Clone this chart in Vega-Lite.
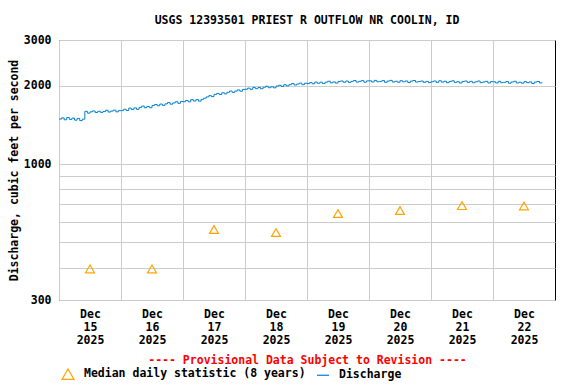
{
  "$schema": "https://vega.github.io/schema/vega-lite/v6.json",
  "autosize": "none",
  "width": 496,
  "height": 260,
  "padding": {"left": 59, "top": 40, "right": 21, "bottom": 84},
  "background": "white",
  "title": {
    "text": "USGS 12393501 PRIEST R OUTFLOW NR COOLIN, ID",
    "font": "DejaVu Sans Mono",
    "fontSize": 11.5,
    "fontWeight": "bold",
    "color": "black",
    "anchor": "middle",
    "offset": 8
  },
  "config": {
    "view": {"stroke": "black", "strokeWidth": 1},
    "font": "DejaVu Sans Mono",
    "axis": {
      "labelFont": "DejaVu Sans Mono",
      "labelFontSize": 11.5,
      "labelFontWeight": "bold",
      "labelColor": "black",
      "titleFont": "DejaVu Sans Mono",
      "titleFontSize": 11.5,
      "titleFontWeight": "bold",
      "titleColor": "black",
      "gridColor": "#cccccc",
      "gridWidth": 1,
      "gridOpacity": 1,
      "domain": false,
      "ticks": false
    },
    "legend": {
      "labelFont": "DejaVu Sans Mono",
      "labelFontSize": 11.5,
      "labelFontWeight": "bold",
      "labelColor": "black",
      "labelLimit": 400
    }
  },
  "datasets": {
    "median": [
      {"t": "2025-12-15T12:00", "q": 395, "series": "Median daily statistic (8 years)"},
      {"t": "2025-12-16T12:00", "q": 395, "series": "Median daily statistic (8 years)"},
      {"t": "2025-12-17T12:00", "q": 560, "series": "Median daily statistic (8 years)"},
      {"t": "2025-12-18T12:00", "q": 545, "series": "Median daily statistic (8 years)"},
      {"t": "2025-12-19T12:00", "q": 645, "series": "Median daily statistic (8 years)"},
      {"t": "2025-12-20T12:00", "q": 663, "series": "Median daily statistic (8 years)"},
      {"t": "2025-12-21T12:00", "q": 692, "series": "Median daily statistic (8 years)"},
      {"t": "2025-12-22T12:00", "q": 690, "series": "Median daily statistic (8 years)"}
    ],
    "flow": [
      {"t": "2025-12-15T00:00", "q": 1490}, {"t": "2025-12-15T01:00", "q": 1505}, {"t": "2025-12-15T02:00", "q": 1480}, {"t": "2025-12-15T03:00", "q": 1510},
      {"t": "2025-12-15T04:00", "q": 1485}, {"t": "2025-12-15T05:00", "q": 1502}, {"t": "2025-12-15T06:00", "q": 1475}, {"t": "2025-12-15T07:00", "q": 1498},
      {"t": "2025-12-15T08:00", "q": 1470}, {"t": "2025-12-15T09:00", "q": 1488}, {"t": "2025-12-15T10:00", "q": 1595}, {"t": "2025-12-15T11:00", "q": 1570},
      {"t": "2025-12-15T12:00", "q": 1588}, {"t": "2025-12-15T13:00", "q": 1600}, {"t": "2025-12-15T14:00", "q": 1578}, {"t": "2025-12-15T15:00", "q": 1596},
      {"t": "2025-12-15T16:00", "q": 1580}, {"t": "2025-12-15T17:00", "q": 1592}, {"t": "2025-12-15T18:00", "q": 1610}, {"t": "2025-12-15T19:00", "q": 1585},
      {"t": "2025-12-15T20:00", "q": 1598}, {"t": "2025-12-15T21:00", "q": 1612}, {"t": "2025-12-15T22:00", "q": 1588}, {"t": "2025-12-15T23:00", "q": 1605},
      {"t": "2025-12-16T00:00", "q": 1605}, {"t": "2025-12-16T01:00", "q": 1625}, {"t": "2025-12-16T02:00", "q": 1606}, {"t": "2025-12-16T03:00", "q": 1641},
      {"t": "2025-12-16T04:00", "q": 1622}, {"t": "2025-12-16T05:00", "q": 1644}, {"t": "2025-12-16T06:00", "q": 1623}, {"t": "2025-12-16T07:00", "q": 1651},
      {"t": "2025-12-16T08:00", "q": 1671}, {"t": "2025-12-16T09:00", "q": 1646}, {"t": "2025-12-16T10:00", "q": 1665}, {"t": "2025-12-16T11:00", "q": 1647},
      {"t": "2025-12-16T12:00", "q": 1681}, {"t": "2025-12-16T13:00", "q": 1694}, {"t": "2025-12-16T14:00", "q": 1676}, {"t": "2025-12-16T15:00", "q": 1701},
      {"t": "2025-12-16T16:00", "q": 1681}, {"t": "2025-12-16T17:00", "q": 1704}, {"t": "2025-12-16T18:00", "q": 1724}, {"t": "2025-12-16T19:00", "q": 1699},
      {"t": "2025-12-16T20:00", "q": 1718}, {"t": "2025-12-16T21:00", "q": 1736}, {"t": "2025-12-16T22:00", "q": 1712}, {"t": "2025-12-16T23:00", "q": 1740},
      {"t": "2025-12-17T00:00", "q": 1737}, {"t": "2025-12-17T01:00", "q": 1756}, {"t": "2025-12-17T02:00", "q": 1735}, {"t": "2025-12-17T03:00", "q": 1769},
      {"t": "2025-12-17T04:00", "q": 1748}, {"t": "2025-12-17T05:00", "q": 1769}, {"t": "2025-12-17T06:00", "q": 1746}, {"t": "2025-12-17T07:00", "q": 1773},
      {"t": "2025-12-17T08:00", "q": 1792}, {"t": "2025-12-17T09:00", "q": 1812}, {"t": "2025-12-17T10:00", "q": 1833}, {"t": "2025-12-17T11:00", "q": 1817},
      {"t": "2025-12-17T12:00", "q": 1853}, {"t": "2025-12-17T13:00", "q": 1869}, {"t": "2025-12-17T14:00", "q": 1852}, {"t": "2025-12-17T15:00", "q": 1880},
      {"t": "2025-12-17T16:00", "q": 1862}, {"t": "2025-12-17T17:00", "q": 1888}, {"t": "2025-12-17T18:00", "q": 1909}, {"t": "2025-12-17T19:00", "q": 1887},
      {"t": "2025-12-17T20:00", "q": 1908}, {"t": "2025-12-17T21:00", "q": 1928}, {"t": "2025-12-17T22:00", "q": 1906}, {"t": "2025-12-17T23:00", "q": 1937},
      {"t": "2025-12-18T00:00", "q": 1940}, {"t": "2025-12-18T01:00", "q": 1959}, {"t": "2025-12-18T02:00", "q": 1938}, {"t": "2025-12-18T03:00", "q": 1972},
      {"t": "2025-12-18T04:00", "q": 1950}, {"t": "2025-12-18T05:00", "q": 1971}, {"t": "2025-12-18T06:00", "q": 1948}, {"t": "2025-12-18T07:00", "q": 1975},
      {"t": "2025-12-18T08:00", "q": 1992}, {"t": "2025-12-18T09:00", "q": 1966}, {"t": "2025-12-18T10:00", "q": 1983}, {"t": "2025-12-18T11:00", "q": 1964},
      {"t": "2025-12-18T12:00", "q": 1995}, {"t": "2025-12-18T13:00", "q": 2008}, {"t": "2025-12-18T14:00", "q": 1989}, {"t": "2025-12-18T15:00", "q": 2019},
      {"t": "2025-12-18T16:00", "q": 1998}, {"t": "2025-12-18T17:00", "q": 2021}, {"t": "2025-12-18T18:00", "q": 2040}, {"t": "2025-12-18T19:00", "q": 2014},
      {"t": "2025-12-18T20:00", "q": 2031}, {"t": "2025-12-18T21:00", "q": 2047}, {"t": "2025-12-18T22:00", "q": 2020}, {"t": "2025-12-18T23:00", "q": 2046},
      {"t": "2025-12-19T00:00", "q": 2040}, {"t": "2025-12-19T01:00", "q": 2057}, {"t": "2025-12-19T02:00", "q": 2035}, {"t": "2025-12-19T03:00", "q": 2067},
      {"t": "2025-12-19T04:00", "q": 2045}, {"t": "2025-12-19T05:00", "q": 2064}, {"t": "2025-12-19T06:00", "q": 2040}, {"t": "2025-12-19T07:00", "q": 2065},
      {"t": "2025-12-19T08:00", "q": 2082}, {"t": "2025-12-19T09:00", "q": 2054}, {"t": "2025-12-19T10:00", "q": 2069}, {"t": "2025-12-19T11:00", "q": 2048},
      {"t": "2025-12-19T12:00", "q": 2078}, {"t": "2025-12-19T13:00", "q": 2087}, {"t": "2025-12-19T14:00", "q": 2064}, {"t": "2025-12-19T15:00", "q": 2086},
      {"t": "2025-12-19T16:00", "q": 2061}, {"t": "2025-12-19T17:00", "q": 2080}, {"t": "2025-12-19T18:00", "q": 2095}, {"t": "2025-12-19T19:00", "q": 2066},
      {"t": "2025-12-19T20:00", "q": 2080}, {"t": "2025-12-19T21:00", "q": 2094}, {"t": "2025-12-19T22:00", "q": 2064}, {"t": "2025-12-19T23:00", "q": 2088},
      {"t": "2025-12-20T00:00", "q": 2090}, {"t": "2025-12-20T01:00", "q": 2068}, {"t": "2025-12-20T02:00", "q": 2098}, {"t": "2025-12-20T03:00", "q": 2073},
      {"t": "2025-12-20T04:00", "q": 2079}, {"t": "2025-12-20T05:00", "q": 2093}, {"t": "2025-12-20T06:00", "q": 2062}, {"t": "2025-12-20T07:00", "q": 2085},
      {"t": "2025-12-20T08:00", "q": 2098}, {"t": "2025-12-20T09:00", "q": 2068}, {"t": "2025-12-20T10:00", "q": 2081}, {"t": "2025-12-20T11:00", "q": 2064},
      {"t": "2025-12-20T12:00", "q": 2092}, {"t": "2025-12-20T13:00", "q": 2072}, {"t": "2025-12-20T14:00", "q": 2087}, {"t": "2025-12-20T15:00", "q": 2058},
      {"t": "2025-12-20T16:00", "q": 2084}, {"t": "2025-12-20T17:00", "q": 2096}, {"t": "2025-12-20T18:00", "q": 2067}, {"t": "2025-12-20T19:00", "q": 2076},
      {"t": "2025-12-20T20:00", "q": 2086}, {"t": "2025-12-20T21:00", "q": 2062}, {"t": "2025-12-20T22:00", "q": 2079}, {"t": "2025-12-20T23:00", "q": 2057},
      {"t": "2025-12-21T00:00", "q": 2072}, {"t": "2025-12-21T01:00", "q": 2087}, {"t": "2025-12-21T02:00", "q": 2061}, {"t": "2025-12-21T03:00", "q": 2091},
      {"t": "2025-12-21T04:00", "q": 2066}, {"t": "2025-12-21T05:00", "q": 2082}, {"t": "2025-12-21T06:00", "q": 2055}, {"t": "2025-12-21T07:00", "q": 2078},
      {"t": "2025-12-21T08:00", "q": 2091}, {"t": "2025-12-21T09:00", "q": 2061}, {"t": "2025-12-21T10:00", "q": 2074}, {"t": "2025-12-21T11:00", "q": 2050},
      {"t": "2025-12-21T12:00", "q": 2078}, {"t": "2025-12-21T13:00", "q": 2086}, {"t": "2025-12-21T14:00", "q": 2061}, {"t": "2025-12-21T15:00", "q": 2081},
      {"t": "2025-12-21T16:00", "q": 2055}, {"t": "2025-12-21T17:00", "q": 2072}, {"t": "2025-12-21T18:00", "q": 2086}, {"t": "2025-12-21T19:00", "q": 2056},
      {"t": "2025-12-21T20:00", "q": 2068}, {"t": "2025-12-21T21:00", "q": 2081}, {"t": "2025-12-21T22:00", "q": 2051}, {"t": "2025-12-21T23:00", "q": 2074},
      {"t": "2025-12-22T00:00", "q": 2073}, {"t": "2025-12-22T01:00", "q": 2051}, {"t": "2025-12-22T02:00", "q": 2081}, {"t": "2025-12-22T03:00", "q": 2056},
      {"t": "2025-12-22T04:00", "q": 2062}, {"t": "2025-12-22T05:00", "q": 2076}, {"t": "2025-12-22T06:00", "q": 2045}, {"t": "2025-12-22T07:00", "q": 2068},
      {"t": "2025-12-22T08:00", "q": 2081}, {"t": "2025-12-22T09:00", "q": 2051}, {"t": "2025-12-22T10:00", "q": 2064}, {"t": "2025-12-22T11:00", "q": 2047},
      {"t": "2025-12-22T12:00", "q": 2075}, {"t": "2025-12-22T13:00", "q": 2055}, {"t": "2025-12-22T14:00", "q": 2070}, {"t": "2025-12-22T15:00", "q": 2041},
      {"t": "2025-12-22T16:00", "q": 2067}, {"t": "2025-12-22T17:00", "q": 2079}, {"t": "2025-12-22T18:00", "q": 2051}, {"t": "2025-12-22T19:00", "q": 2060}
    ]
  },
  "encoding": {
    "x": {
      "field": "t",
      "type": "temporal",
      "scale": {"domain": [{"year": 2025, "month": 12, "date": 15}, {"year": 2025, "month": 12, "date": 23}]},
      "axis": {
        "title": "---- Provisional Data Subject to Revision ----",
        "titleColor": "#ff0000",
        "titlePadding": 9,
        "values": [
          {"year": 2025, "month": 12, "date": 15}, {"year": 2025, "month": 12, "date": 16},
          {"year": 2025, "month": 12, "date": 17}, {"year": 2025, "month": 12, "date": 18},
          {"year": 2025, "month": 12, "date": 19}, {"year": 2025, "month": 12, "date": 20},
          {"year": 2025, "month": 12, "date": 21}, {"year": 2025, "month": 12, "date": 22}
        ],
        "labelExpr": "[timeFormat(datum.value, '%b'), timeFormat(datum.value, '%d'), timeFormat(datum.value, '%Y')]",
        "labelOffset": 31,
        "labelPadding": 8,
        "labelLineHeight": 13,
        "labelAlign": "center",
        "labelBound": false,
        "labelFlush": false,
        "labelOverlap": false
      }
    },
    "y": {
      "field": "q",
      "type": "quantitative",
      "scale": {"type": "log", "domain": [300, 3000], "nice": false},
      "axis": {
        "title": "Discharge, cubic feet per second",
        "titlePadding": 4,
        "values": [300, 400, 500, 600, 700, 800, 900, 1000, 2000, 3000],
        "labelExpr": "indexof([300, 1000, 2000, 3000], datum.value) >= 0 ? format(datum.value, 'd') : ''",
        "labelPadding": 8,
        "labelOverlap": false
      }
    }
  },
  "layer": [
    {
      "data": {"name": "flow"},
      "mark": {"type": "line", "interpolate": "step-after", "strokeWidth": 1, "clip": true},
      "encoding": {
        "color": {
          "datum": "Discharge",
          "type": "nominal",
          "scale": {"domain": ["Median daily statistic (8 years)", "Discharge"], "range": ["#ffa500", "#0080d0"]},
          "legend": {
            "title": null,
            "orient": "none",
            "direction": "horizontal",
            "legendX": 2,
            "legendY": 327,
            "labelOffset": 9,
            "columnPadding": 8,
            "symbolSize": 144,
            "symbolStrokeWidth": 1.2
          }
        }
      }
    },
    {
      "data": {"name": "median"},
      "mark": {"type": "point", "filled": false, "strokeWidth": 1.2, "opacity": 1, "size": 80},
      "encoding": {
        "color": {
          "field": "series",
          "type": "nominal",
          "scale": {"domain": ["Median daily statistic (8 years)", "Discharge"], "range": ["#ffa500", "#0080d0"]},
          "legend": {
            "title": null,
            "orient": "none",
            "direction": "horizontal",
            "legendX": 2,
            "legendY": 327,
            "labelOffset": 9,
            "columnPadding": 8,
            "symbolSize": 144,
            "symbolStrokeWidth": 1.2
          }
        },
        "shape": {
          "field": "series",
          "type": "nominal",
          "scale": {"domain": ["Median daily statistic (8 years)", "Discharge"], "range": ["triangle-up", "stroke"]},
          "legend": {
            "title": null,
            "orient": "none",
            "direction": "horizontal",
            "legendX": 2,
            "legendY": 327,
            "labelOffset": 9,
            "columnPadding": 8,
            "symbolSize": 144,
            "symbolStrokeWidth": 1.2
          }
        }
      }
    }
  ],
  "resolve": {"scale": {"color": "shared"}}
}
